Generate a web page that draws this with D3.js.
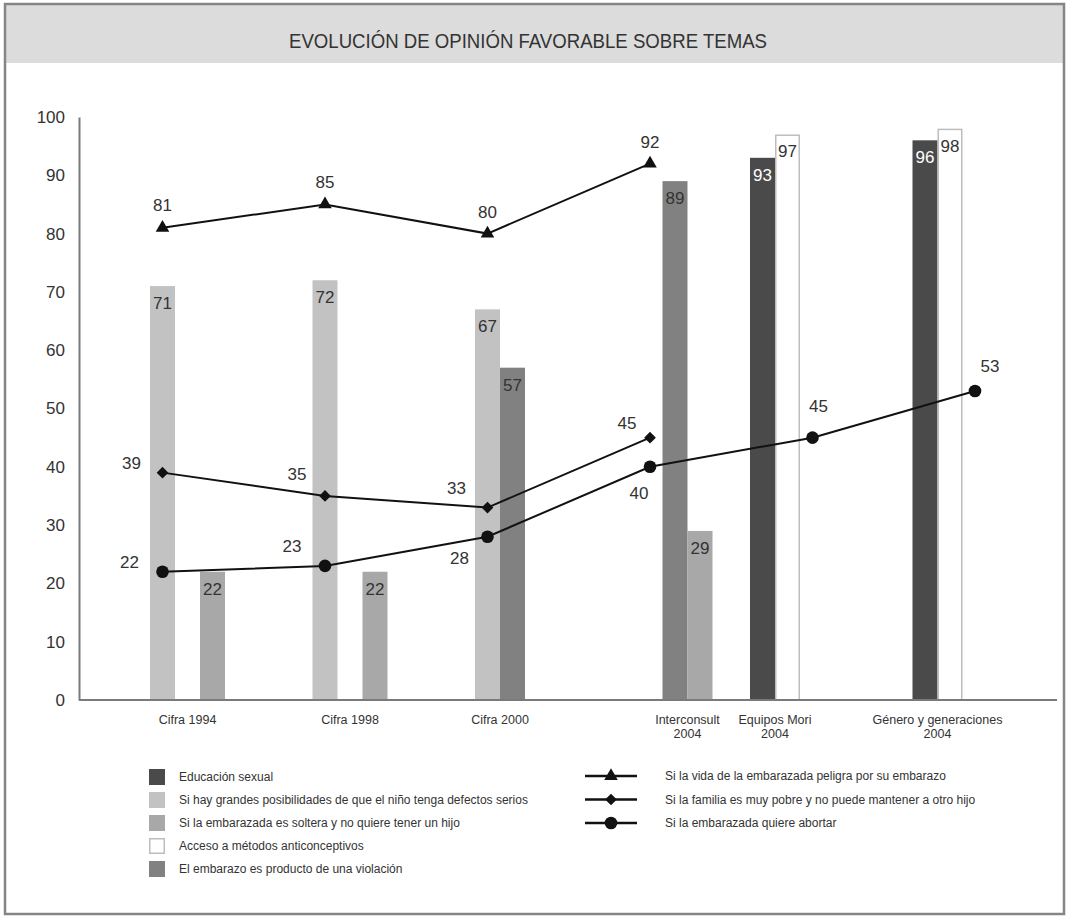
<!DOCTYPE html>
<html lang="es">
<head>
<meta charset="utf-8">
<title>Evolución de opinión favorable sobre temas</title>
<script src="https://cdn.jsdelivr.net/npm/d3@7/dist/d3.min.js"></script>
<style>
  html, body { margin: 0; padding: 0; background: #fff; }
  svg { display: block; }
  text { font-family: "Liberation Sans", Arial, sans-serif; fill: #333; }
</style>
</head>
<body>
<svg id="chart" width="1066" height="916"></svg>
<script>
// ---- Data ----
const groups = ["Cifra 1994", "Cifra 1998", "Cifra 2000", "Interconsult 2004", "Equipos Mori 2004", "Género y generaciones 2004"];
const groupLabels = [["Cifra 1994"], ["Cifra 1998"], ["Cifra 2000"], ["Interconsult", "2004"], ["Equipos Mori", "2004"], ["Género y generaciones", "2004"]];

// bar series (null = not surveyed)
const educacionSexual = [null, null, null, null, 93, 96];
const defectosSerios = [71, 72, 67, null, null, null];
const solteraSinHijo = [22, 22, null, 29, null, null];
const anticonceptivos = [null, null, null, null, 97, 98];
const violacion = [null, null, 57, 89, null, null];

// line series
const vidaPeligra = [81, 85, 80, 92, null, null];
const familiaPobre = [39, 35, 33, 45, null, null];
const quiereAbortar = [22, 23, 28, 40, 45, 53];

const yTicks = [0, 10, 20, 30, 40, 50, 60, 70, 80, 90, 100];

// ---- Series definitions (order = slot order inside each group) ----
const barSeries = [
  { key: "edu",  name: "Educación sexual", values: educacionSexual, fill: "#4a4a4a", stroke: "none", text: "#ffffff" },
  { key: "anti", name: "Acceso a métodos anticonceptivos", values: anticonceptivos, fill: "#ffffff", stroke: "#bdbdbd", text: "#333" },
  { key: "def",  name: "Si hay grandes posibilidades de que el niño tenga defectos serios", values: defectosSerios, fill: "#c2c2c2", stroke: "none", text: "#333" },
  { key: "viol", name: "El embarazo es producto de una violación", values: violacion, fill: "#818181", stroke: "none", text: "#333" },
  { key: "solt", name: "Si la embarazada es soltera y no quiere tener un hijo", values: solteraSinHijo, fill: "#a8a8a8", stroke: "none", text: "#333" }
];
const legendBarOrder = ["edu", "def", "solt", "anti", "viol"];

const lineSeries = [
  { key: "vida",  name: "Si la vida de la embarazada peligra por su embarazo", values: vidaPeligra, symbol: "triangle",
    labelPos: [[0, -23], [0, -23], [0, -22], [0, -22]] },
  { key: "pobre", name: "Si la familia es muy pobre y no puede mantener a otro hijo", values: familiaPobre, symbol: "diamond",
    labelPos: [[-31, -10], [-28, -22], [-31, -20], [-23, -15]] },
  { key: "abort", name: "Si la embarazada quiere abortar", values: quiereAbortar, symbol: "circle",
    labelPos: [[-33, -10], [-33, -20], [-28, 21], [-11, 26], [6, -32], [15, -25]] }
];

// ---- Layout ----
const svg = d3.select("#chart");

// frame and title band
svg.append("rect").attr("x", 5).attr("y", 4).attr("width", 1059).attr("height", 59).attr("fill", "#dcdcdc");
svg.append("rect").attr("x", 5).attr("y", 4).attr("width", 1059).attr("height", 910)
  .attr("fill", "none").attr("stroke", "#858585").attr("stroke-width", 2.5);
svg.append("text")
  .attr("x", 528).attr("y", 48)
  .attr("text-anchor", "middle")
  .attr("font-family", "'Liberation Sans Narrow', 'DejaVu Sans Condensed', Arial, sans-serif")
  .attr("font-size", 21)
  .attr("textLength", 478).attr("lengthAdjust", "spacingAndGlyphs")
  .text("EVOLUCIÓN DE OPINIÓN FAVORABLE SOBRE TEMAS");

const x = d3.scaleBand().domain(groups).range([81.25, 1056.25]).paddingInner(0);
const cx = g => x(g) + x.bandwidth() / 2;
const slot = d3.scaleBand().domain(barSeries.map(s => s.key)).range([-62.5, 62.5]);
const y = d3.scaleLinear().domain([0, 100]).range([700, 117]);

const plot = svg.append("g");

// y axis
const yAxis = plot.append("g").attr("transform", "translate(79,0)")
  .call(d3.axisLeft(y).tickValues(yTicks).tickSize(0).tickSizeOuter(0).tickPadding(14));
yAxis.select(".domain").attr("stroke", "#7a7a7a").attr("stroke-width", 2);
yAxis.selectAll(".tick text").attr("font-size", 17).attr("fill", "#333")
  .attr("font-family", "'Liberation Sans', Arial, sans-serif");

// bars
const barData = [];
barSeries.forEach(s => s.values.forEach((v, i) => {
  if (v != null) barData.push({ s, g: groups[i], gi: i, v });
}));

const outlined = d => d.s.stroke !== "none";
plot.append("g").selectAll("rect").data(barData).join("rect")
  .attr("x", d => cx(d.g) + slot(d.s.key) + (outlined(d) ? 0.75 : 0))
  .attr("y", d => y(d.v) + (outlined(d) ? 0.75 : 0))
  .attr("width", d => slot.bandwidth() - (outlined(d) ? 1.5 : 0))
  .attr("height", d => y(0) - y(d.v) - (outlined(d) ? 0.75 : 0))
  .attr("fill", d => d.s.fill)
  .attr("stroke", d => d.s.stroke)
  .attr("stroke-width", 1.5);

// x axis line
plot.append("line").attr("x1", 79).attr("x2", 1057).attr("y1", y(0)).attr("y2", y(0))
  .attr("stroke", "#7a7a7a").attr("stroke-width", 2);

// bar value labels
plot.append("g").selectAll("text").data(barData).join("text")
  .attr("x", d => cx(d.g) + slot(d.s.key) + slot.bandwidth() / 2)
  .attr("y", d => y(d.v) + 23)
  .attr("text-anchor", "middle")
  .attr("font-size", 17)
  .style("fill", d => d.s.text)
  .text(d => d.v);

// group labels centred on the bars drawn in each group
const xl = plot.append("g");
groups.forEach((g, i) => {
  const inGroup = barData.filter(d => d.gi === i);
  const lo = d3.min(inGroup, d => cx(g) + slot(d.s.key));
  const hi = d3.max(inGroup, d => cx(g) + slot(d.s.key) + slot.bandwidth());
  const t = xl.append("text").attr("x", (lo + hi) / 2).attr("y", 724)
    .attr("text-anchor", "middle").attr("font-size", 12.5);
  groupLabels[i].forEach((ln, k) => {
    t.append("tspan").attr("x", (lo + hi) / 2).attr("dy", k === 0 ? 0 : 14).text(ln);
  });
});

// lines and markers
const symbolPath = type => {
  if (type === "triangle") return d3.symbol(d3.symbolTriangle, 80)();
  if (type === "diamond") return d3.symbol(d3.symbolSquare, 68)();
  return d3.symbol(d3.symbolCircle, 125)();
};
const line = d3.line().defined(d => d.v != null).x(d => cx(d.g)).y(d => y(d.v));

lineSeries.forEach(s => {
  const pts = s.values.map((v, i) => ({ g: groups[i], v, i })).filter(d => d.v != null);
  const lg = plot.append("g");
  lg.append("path").datum(pts).attr("d", line)
    .attr("fill", "none").attr("stroke", "#111").attr("stroke-width", 2);
  lg.selectAll("path.m").data(pts).join("path").attr("class", "m")
    .attr("d", symbolPath(s.symbol))
    .attr("transform", d => `translate(${cx(d.g)},${y(d.v)})` + (s.symbol === "diamond" ? " rotate(45)" : ""))
    .attr("fill", "#111");
  lg.selectAll("text").data(pts).join("text")
    .attr("x", d => cx(d.g) + s.labelPos[d.i][0])
    .attr("y", d => y(d.v) + s.labelPos[d.i][1])
    .attr("dy", "0.36em")
    .attr("text-anchor", "middle")
    .attr("font-size", 17)
    .text(d => d.v);
});

// legend: bars
const legL = svg.append("g");
legendBarOrder.forEach((k, i) => {
  const s = barSeries.find(b => b.key === k);
  const ry = 777 + i * 23;
  const o = s.stroke !== "none";
  legL.append("rect").attr("x", o ? 149.75 : 149).attr("y", ry - 8 + (o ? 0.75 : 0))
    .attr("width", o ? 14.5 : 16).attr("height", o ? 14.5 : 16)
    .attr("fill", s.fill).attr("stroke", s.stroke).attr("stroke-width", 1.5);
  legL.append("text").attr("x", 179).attr("y", ry).attr("dy", "0.36em")
    .attr("font-size", 12).text(s.name);
});

// legend: lines
const legR = svg.append("g");
lineSeries.forEach((s, i) => {
  const ry = 776 + i * 23.5;
  legR.append("line").attr("x1", 585).attr("x2", 637).attr("y1", ry).attr("y2", ry)
    .attr("stroke", "#111").attr("stroke-width", 2.5);
  legR.append("path").attr("d", symbolPath(s.symbol))
    .attr("transform", `translate(611,${ry})` + (s.symbol === "diamond" ? " rotate(45)" : ""))
    .attr("fill", "#111");
  legR.append("text").attr("x", 665).attr("y", ry).attr("dy", "0.36em")
    .attr("font-size", 12).text(s.name);
});
</script>
</body>
</html>
